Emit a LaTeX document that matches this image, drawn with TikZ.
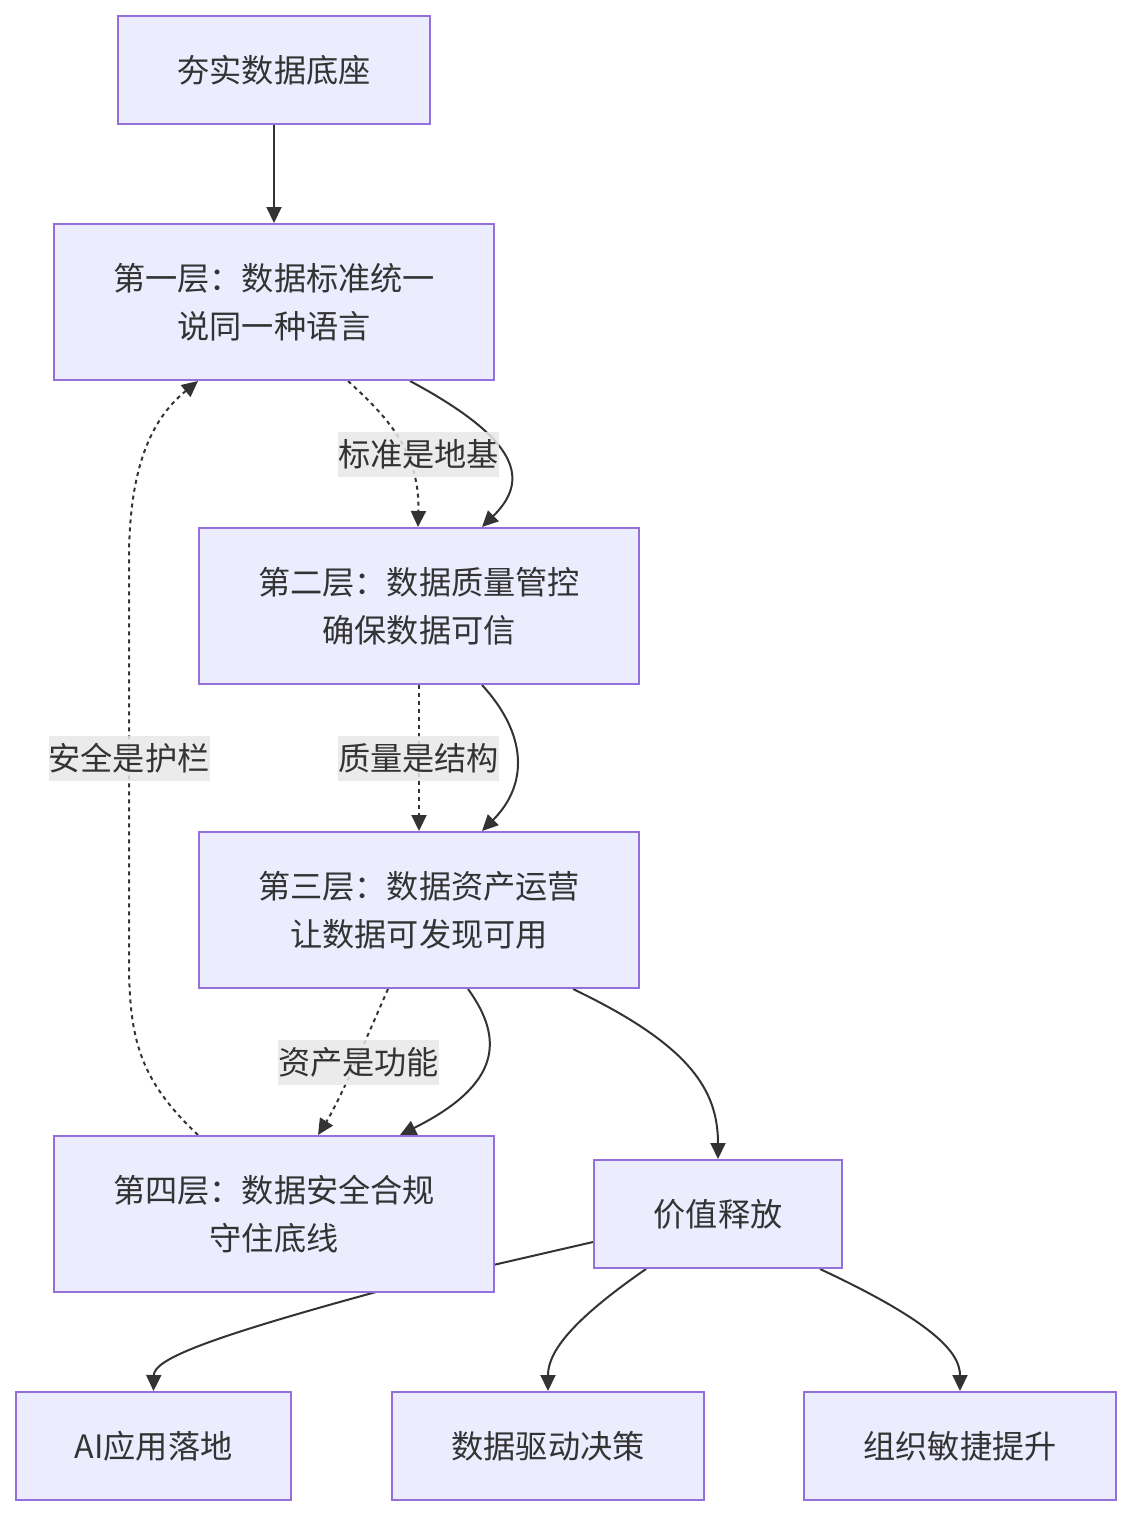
\documentclass[tikz,border=0pt]{standalone}
\usepackage{fontspec}
\setmainfont{Noto Sans CJK SC}
\usetikzlibrary{arrows.meta}
\pgfdeclarelayer{edges}
\pgfsetlayers{edges,main}
\definecolor{nodefill}{HTML}{ECECFF}
\definecolor{nodeline}{HTML}{9370DB}
\definecolor{ink}{HTML}{333333}
\definecolor{lblbg}{HTML}{E8E8E8}
\tikzset{
  box/.style={draw=nodeline, fill=nodefill, line width=2pt, inner sep=0pt,
    align=center, text=ink, font=\fontsize{32.2}{48}\selectfont},
  conn/.style={draw=ink, line width=2pt, -{Triangle[length=16pt,width=15pt]}},
  dotconn/.style={conn, dash pattern=on 4pt off 4pt},
  lbl/.style={fill=lblbg, fill opacity=0.85, text opacity=1, text=ink, inner sep=0pt,
    minimum width=159pt, minimum height=45pt, font=\fontsize{32.2}{36}\selectfont}
}
\begin{document}
\begin{tikzpicture}[x=1pt,y=-1pt]
\useasboundingbox (0,0) rectangle (1131,1516);
\node[box, minimum width=312pt, minimum height=108pt] (A) at (274,70) {夯实数据底座};
\node[box, minimum width=440pt, minimum height=156pt] (L1) at (274,302) {第一层：数据标准统一\\说同一种语言};
\node[box, minimum width=440pt, minimum height=156pt] (L2) at (419,606) {第二层：数据质量管控\\确保数据可信};
\node[box, minimum width=440pt, minimum height=156pt] (L3) at (419,910) {第三层：数据资产运营\\让数据可发现可用};
\node[box, minimum width=440pt, minimum height=156pt] (L4) at (274,1214) {第四层：数据安全合规\\守住底线};
\node[box, minimum width=248pt, minimum height=108pt] (V) at (718,1214) {价值释放};
\node[box, minimum width=275pt, minimum height=108pt] (AI) at (153.5,1446) {AI应用落地};
\node[box, minimum width=312pt, minimum height=108pt] (D) at (548,1446) {数据驱动决策};
\node[box, minimum width=312pt, minimum height=108pt] (O) at (960,1446) {组织敏捷提升};

\begin{pgfonlayer}{edges}
\draw[conn] (A.south) -- (L1.north);
% L1 -> L2
\draw[dotconn] ([xshift=74pt]L1.south) .. controls (385,415) and (420,450) .. ([xshift=-1pt]L2.north);
\draw[conn] ([xshift=136pt]L1.south) .. controls (520,440) and (530,480) .. ([xshift=63pt]L2.north);
% L2 -> L3
\draw[dotconn] (L2.south) -- (L3.north);
\draw[conn] ([xshift=63pt]L2.south) .. controls (528,735) and (528,785) .. ([xshift=63pt]L3.north);
% L3 -> L4
\draw[dotconn] ([xshift=-31pt]L3.south) .. controls (370,1030) and (340,1100) .. ([xshift=44pt]L4.north);
\draw[conn] ([xshift=49pt]L3.south) .. controls (505,1040) and (500,1085) .. ([xshift=126pt]L4.north);
% L3 -> V
\draw[conn] ([xshift=154pt]L3.south) .. controls (690,1045) and (718,1090) .. (V.north);
% L4 -> L1
\draw[dotconn] ([xshift=-76pt]L4.north) .. controls (140,1080) and (129,1040) .. (129,960)
  -- (129,560) .. controls (129,470) and (150,420) .. ([xshift=-76pt]L1.south);
% V -> outputs
\draw[conn] ([yshift=-28pt]V.west) -- (376,1292) .. controls (200,1340) and (154,1360) .. (AI.north);
\draw[conn] ([xshift=-72pt]V.south) .. controls (565,1325) and (548,1355) .. (D.north);
\draw[conn] ([xshift=102pt]V.south) .. controls (940,1325) and (960,1355) .. (O.north);
\end{pgfonlayer}

\node[lbl] (la) at (418.5,454.5) {标准是地基};
\node[lbl] (lb) at (418.5,758) {质量是结构};
\node[lbl] (lc) at (358.5,1062.5) {资产是功能};
\node[lbl] (ld) at (129,758) {安全是护栏};
\end{tikzpicture}
\end{document}
